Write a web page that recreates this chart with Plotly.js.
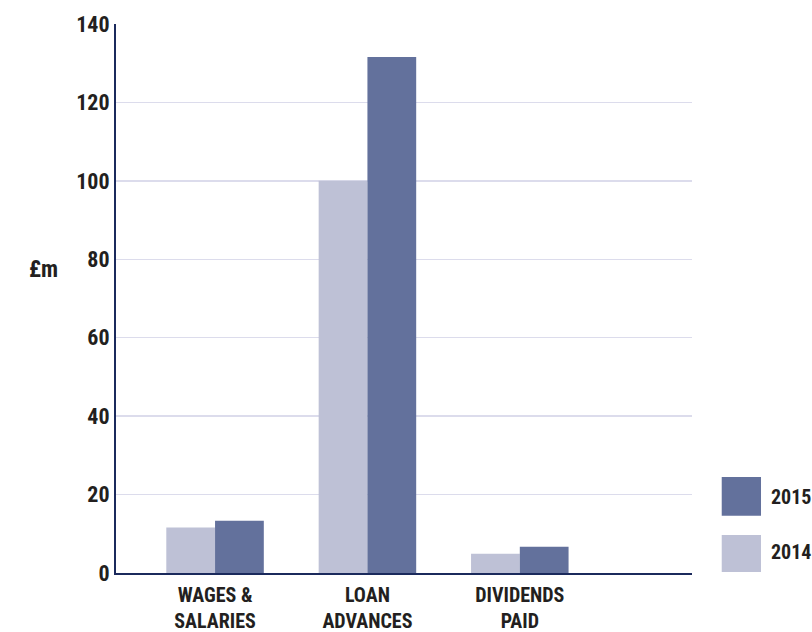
<!DOCTYPE html>
<html><head><meta charset="utf-8">
<script src="https://cdn.plot.ly/plotly-3.0.1.min.js"></script>
<style>html,body{margin:0;padding:0;background:#fff;}#chart{width:812px;height:632px;}</style>
</head><body><div id="chart"></div>
<script>
const categories = ["WAGES &<br>SALARIES", "LOAN<br>ADVANCES", "DIVIDENDS<br>PAID"];
const values2014 = [11.6, 100, 4.9];
const values2015 = [13.3, 131.6, 6.7];
const seriesNames = ["2014", "2015"];
const yTicks = [0, 20, 40, 60, 80, 100, 120, 140];

const FONT = '"Roboto Condensed", "Liberation Sans Narrow", "Roboto", sans-serif';
const TXT = '#231f20';
const C2014 = '#bec1d6';
const C2015 = '#63719c';

const traces = [
  {type:'bar', name:seriesNames[0], x:categories, y:values2014, marker:{color:C2014}, hoverinfo:'y'},
  {type:'bar', name:seriesNames[1], x:categories, y:values2015, marker:{color:C2015}, hoverinfo:'y'}
];

const layout = {
  width:812, height:632,
  margin:{l:116, r:120, t:24, b:59},
  paper_bgcolor:'#fff', plot_bgcolor:'#fff',
  barmode:'group', bargap:0.36, bargroupgap:0,
  showlegend:false,
  font:{family:FONT, color:TXT, size:20, weight:'bold'},
  xaxis:{type:'category', range:[-0.65, 3.13], showgrid:false, ticks:'',
    showline:true, linecolor:'#1b2a5c', linewidth:2, ticklabelstandoff:3,
    tickfont:{family:FONT, size:20, color:TXT, weight:'bold'}, fixedrange:true},
  yaxis:{range:[0,140], tickvals:yTicks, ticktext:yTicks.map(String),
    showgrid:true, gridcolor:'#dcdcec', gridwidth:1.5, zeroline:false,
    showline:true, linecolor:'#1b2a5c', linewidth:2, ticks:'', ticklen:0,
    tickfont:{family:FONT, size:22, color:TXT, weight:'bold'}, fixedrange:true},
  shapes:[
    {type:'rect', xref:'paper', yref:'paper', x0:1.0516, x1:1.1198, y0:0.1044, y1:0.1749, fillcolor:C2015, line:{width:0}},
    {type:'rect', xref:'paper', yref:'paper', x0:1.0516, x1:1.1198, y0:0.0018, y1:0.0692, fillcolor:C2014, line:{width:0}}
  ],
  annotations:[
    {text:'£m', xref:'paper', yref:'paper', x:-0.098, y:0.553, xanchor:'right', yanchor:'middle', showarrow:false, font:{family:FONT, size:23, color:TXT, weight:'bold'}},
    {text:seriesNames[1], xref:'paper', yref:'paper', x:1.133, y:0.139, xanchor:'left', yanchor:'middle', showarrow:false, font:{family:FONT, size:20, color:TXT, weight:'bold'}},
    {text:seriesNames[0], xref:'paper', yref:'paper', x:1.133, y:0.0388, xanchor:'left', yanchor:'middle', showarrow:false, font:{family:FONT, size:20, color:TXT, weight:'bold'}}
  ]
};
Plotly.newPlot('chart', traces, layout, {displayModeBar:false, staticPlot:true});
</script></body></html>
